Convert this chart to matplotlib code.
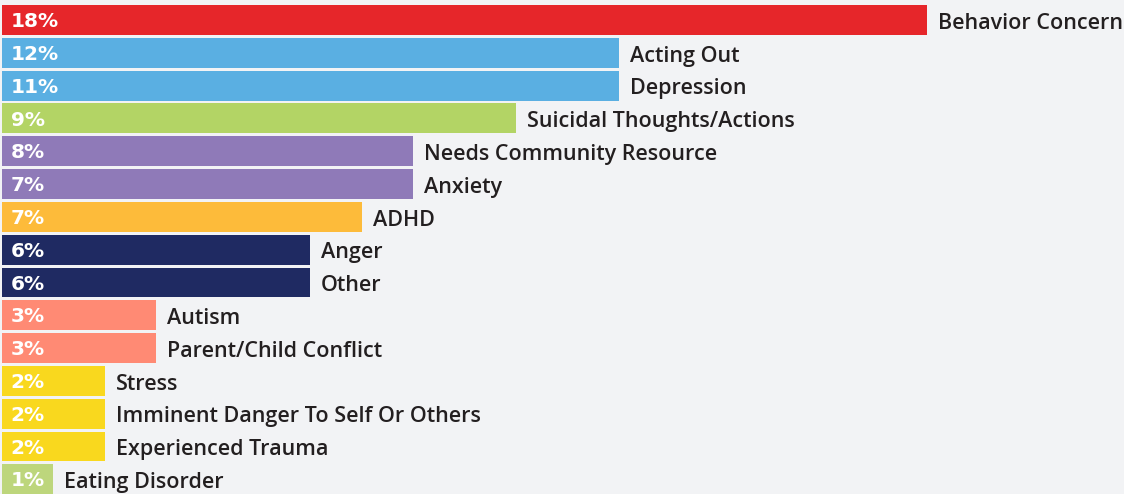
import numpy as np
import matplotlib.pyplot as plt

# categories, top to bottom
categories = ['Behavior Concern', 'Acting Out', 'Depression', 'Suicidal Thoughts/Actions',
              'Needs Community Resource', 'Anxiety', 'ADHD', 'Anger', 'Other', 'Autism',
              'Parent/Child Conflict', 'Stress', 'Imminent Danger To Self Or Others',
              'Experienced Trauma', 'Eating Disorder']
# bar lengths (labels are rounded)
values = [18, 12, 12, 10, 8, 8, 7, 6, 6, 3, 3, 2, 2, 2, 1]
pct_labels = ['18%', '12%', '11%', '9%', '8%', '7%', '7%', '6%', '6%', '3%', '3%',
              '2%', '2%', '2%', '1%']
colors = ['#e6262a', '#5aafe2', '#5aafe2', '#b3d465', '#8f7ab8', '#8f7ab8', '#fdbb3a',
          '#1f2a62', '#1f2a62', '#ff8a74', '#ff8a74', '#f9d81e', '#f9d81e', '#f9d81e',
          '#bdd67c']

bg = '#f2f3f5'
fig = plt.figure(figsize=(11.24, 4.94), dpi=100, facecolor=bg)
ax = fig.add_axes([0, 0, 1, 1])
ax.set_facecolor(bg)

y = np.arange(len(categories))
ax.barh(y, values, height=0.91, color=colors, left=0)

for i in range(len(categories)):
    ax.text(0.17, y[i] + 0.05, pct_labels[i], color='white', fontsize=14.5,
            fontweight='bold', va='center', ha='left', family='DejaVu Sans')
    ax.text(values[i] + 0.21, y[i] + 0.1, categories[i], color='#231f20', fontsize=15.5,
            fontweight='semibold', va='center', ha='left', family='Open Sans')

ax.set_xlim(-0.04, 21.83)
ax.set_ylim(14.45, -0.61)
ax.axis('off')

plt.savefig('out.png', dpi=100, facecolor=bg)
